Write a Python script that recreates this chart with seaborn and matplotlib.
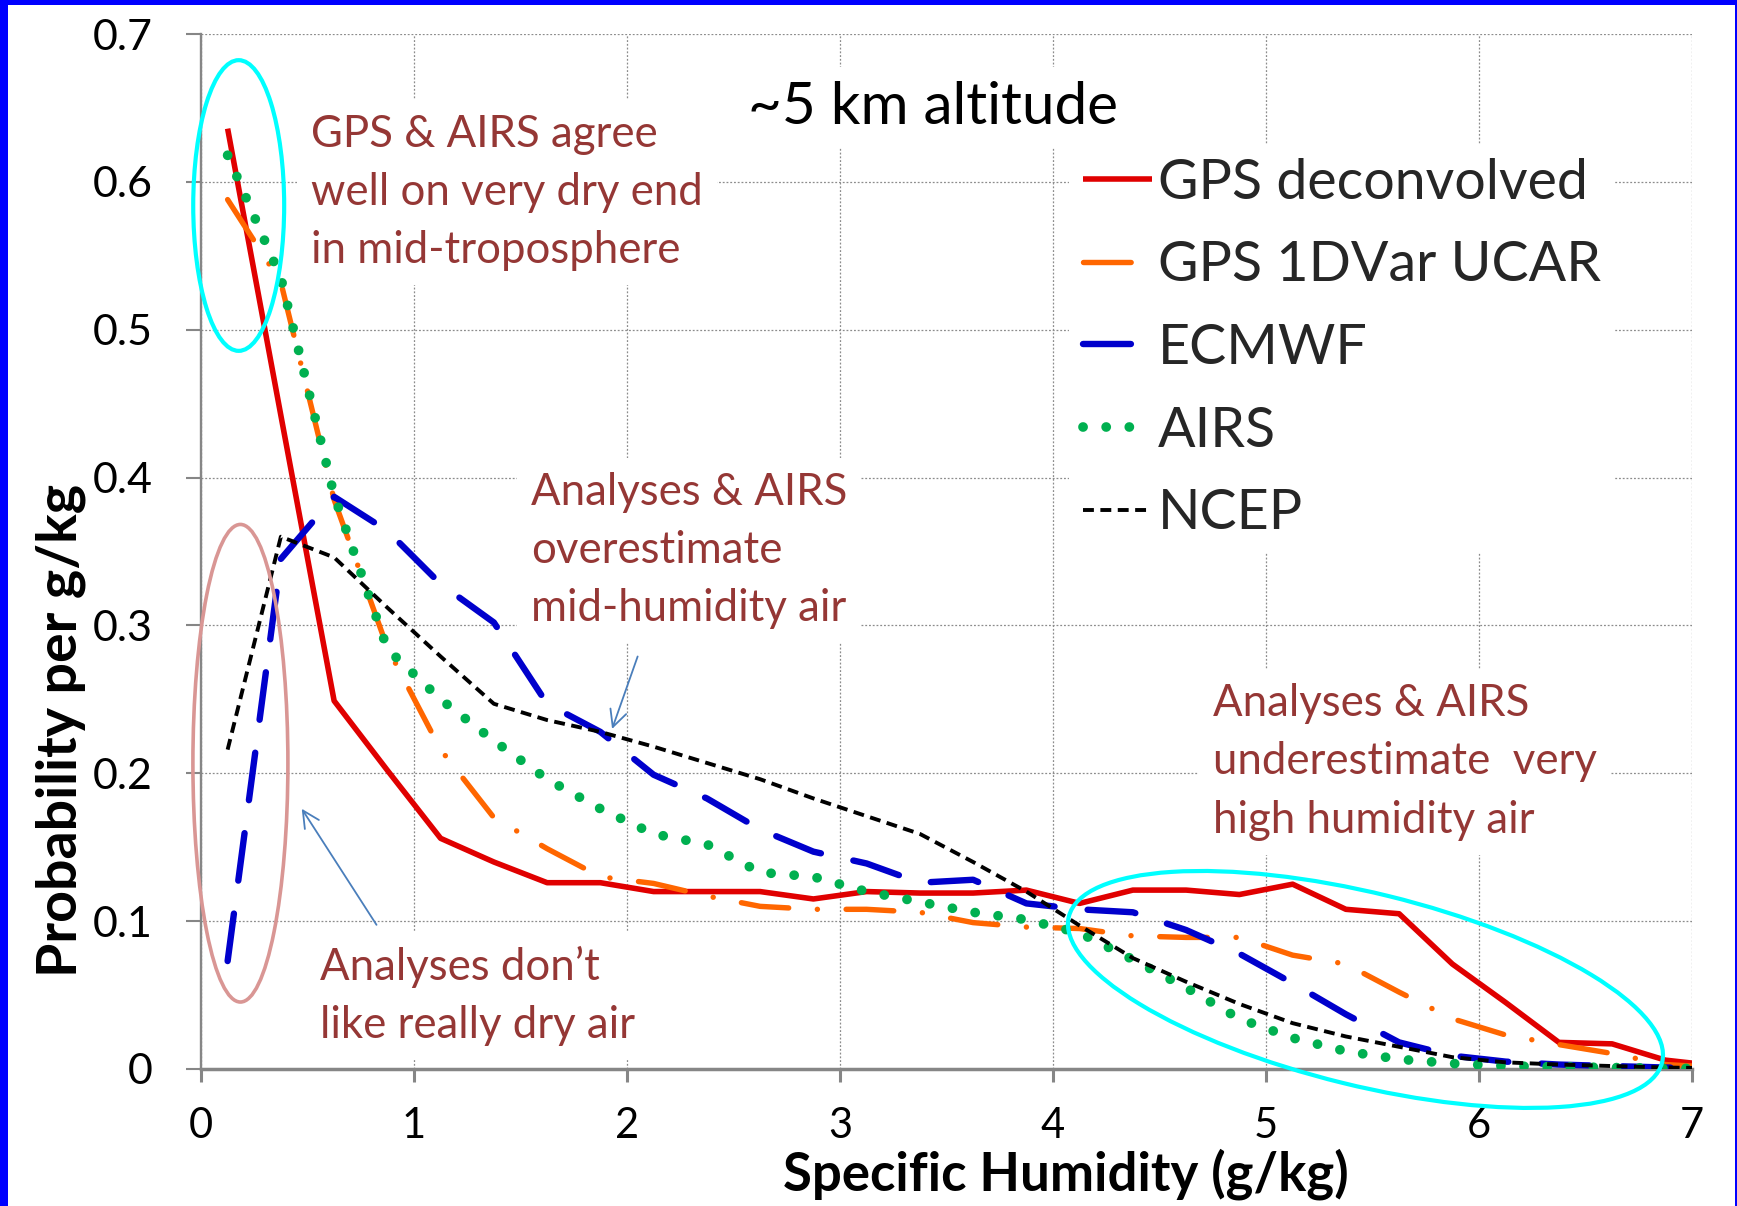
import matplotlib
matplotlib.use("Agg")
import matplotlib.pyplot as plt
import seaborn as sns
from matplotlib.patches import Ellipse, Rectangle
from matplotlib.transforms import ScaledTranslation

# ---------------- data ----------------
humidity = [0.125, 0.375, 0.625, 0.875, 1.125, 1.375, 1.625, 1.875, 2.125, 2.375,
            2.625, 2.875, 3.125, 3.375, 3.625, 3.875, 4.125, 4.375, 4.625, 4.875,
            5.125, 5.375, 5.625, 5.875, 6.125, 6.375, 6.625, 6.875, 7.125]

gps_deconvolved = [0.636, 0.442, 0.249, 0.202, 0.156, 0.140, 0.126, 0.126, 0.120, 0.120,
                   0.120, 0.115, 0.120, 0.119, 0.119, 0.121, 0.112, 0.121, 0.121, 0.118,
                   0.125, 0.108, 0.105, 0.071, 0.045, 0.018, 0.017, 0.006, 0.002]

gps_1dvar_ucar = [0.588, 0.532, 0.385, 0.285, 0.216, 0.170, 0.149, 0.130, 0.1255, 0.117,
                  0.110, 0.108, 0.108, 0.106, 0.099, 0.096, 0.095, 0.090, 0.089, 0.089,
                  0.077, 0.071, 0.052, 0.034, 0.023, 0.0165, 0.0105, 0.003, 0.001]

ecmwf = [0.073, 0.345, 0.387, 0.364, 0.328, 0.302, 0.247, 0.228, 0.199, 0.183,
         0.162, 0.147, 0.139, 0.126, 0.128, 0.112, 0.108, 0.106, 0.094, 0.078,
         0.058, 0.037, 0.018, 0.009, 0.005, 0.003, 0.002, 0.001, 0.0005]

airs = [0.618, 0.535, 0.388, 0.284, 0.250, 0.222, 0.196, 0.176, 0.159, 0.152,
        0.133, 0.130, 0.120, 0.113, 0.106, 0.101, 0.092, 0.074, 0.055, 0.034,
        0.021, 0.012, 0.0066, 0.0037, 0.002, 0.0015, 0.001, 0.0005, 0.0003]

ncep = [0.216, 0.360, 0.346, 0.312, 0.279, 0.247, 0.236, 0.228, 0.218, 0.207,
        0.196, 0.183, 0.171, 0.159, 0.140, 0.120, 0.097, 0.075, 0.059, 0.044,
        0.031, 0.022, 0.015, 0.008, 0.0045, 0.003, 0.002, 0.001, 0.0005]

series_names = ["GPS deconvolved", "GPS 1DVar UCAR", "ECMWF", "AIRS", "NCEP"]
series_values = [gps_deconvolved, gps_1dvar_ucar, ecmwf, airs, ncep]

x_ticks = [0, 1, 2, 3, 4, 5, 6, 7]
x_tick_labels = ["0", "1", "2", "3", "4", "5", "6", "7"]
y_ticks = [0, 0.1, 0.2, 0.3, 0.4, 0.5, 0.6, 0.7]
y_tick_labels = ["0", "0.1", "0.2", "0.3", "0.4", "0.5", "0.6", "0.7"]

# ---------------- styles ----------------
line_styles = [
    dict(color="#E00000", lw=4.0, linestyle="-", solid_capstyle="butt"),
    dict(color="#FF6600", lw=3.9, linestyle=(0, (8.8, 5.3, 0.01, 5.3)), dash_capstyle="round"),
    dict(color="#0000CC", lw=4.6, linestyle=(0, (7.5, 5.2)), dash_capstyle="round"),
    dict(color="#00B050", lw=7.0, linestyle=(0, (0.01, 2.37)), dash_capstyle="round"),
    dict(color="black", lw=2.8, linestyle=(0, (2.8, 1.67)), dash_capstyle="butt"),
]

BROWN = "#953735"
W, H = 1737, 1206

sns.set_theme(style="white")
plt.rcParams["font.family"] = ["Lato", "DejaVu Sans"]

fig = plt.figure(figsize=(W / 100, H / 100), dpi=100, facecolor="#0000FF")
fig.add_artist(Rectangle((8 / W, 0), (W - 10) / W, 1 - 5 / H, transform=fig.transFigure,
                         facecolor="white", edgecolor="none", zorder=-5))

ax = fig.add_axes([201 / W, (H - 1069) / H, (1692 - 201) / W, (1069 - 34) / H])
ax.set_facecolor("white")

for name, vals, st in zip(series_names, series_values, line_styles):
    sns.lineplot(x=humidity, y=vals, ax=ax, label=name, errorbar=None, sort=False,
                 zorder=3, **st)

ax.set_xlim(0, 7)
ax.set_ylim(0, 0.7)
ax.set_xticks(x_ticks)
ax.set_xticklabels(x_tick_labels)
ax.set_yticks(y_ticks)
ax.set_yticklabels(y_tick_labels)

ax.set_axisbelow(True)
ax.grid(True, color="#8c8c8c", lw=0.9, linestyle=(0, (1.5, 1.5)))

for s in ["top", "right"]:
    ax.spines[s].set_visible(False)
ax.spines["left"].set_color("#868686")
ax.spines["left"].set_linewidth(1.7)
ax.spines["bottom"].set_color("#868686")
ax.spines["bottom"].set_linewidth(2.5)

ax.tick_params(axis="y", direction="out", length=11, width=1.5, color="#868686",
               pad=24, labelsize=31, labelcolor="black", left=True)
ax.tick_params(axis="x", direction="out", length=9, width=2.2, color="#868686",
               pad=18, labelsize=30, labelcolor="black", bottom=True)

ax.set_xlabel("Specific Humidity (g/kg)", fontsize=38, fontweight="bold", color="black")
ax.xaxis.set_label_coords(0.580, -0.0765)
ax.set_ylabel("Probability per g/kg", fontsize=40, fontweight="bold", color="black", va="center")
ax.yaxis.set_label_coords(-0.094, 0.327)

# legend
handles = ax.get_lines()[:5]
leg = ax.legend(handles=handles, labels=series_names, loc="upper left",
                bbox_to_anchor=(0.582, 0.894), borderaxespad=0, borderpad=0.25,
                fontsize=40, handlelength=1.25, handletextpad=0.1, labelspacing=0.57,
                frameon=True, fancybox=False, facecolor="white", edgecolor="none",
                framealpha=1)
leg.set_zorder(2.5)

box = dict(facecolor="white", edgecolor="none", pad=10)
note = dict(fontsize=31.5, color=BROWN, ha="left", va="center", linespacing=1.52,
            zorder=2.5, bbox=box)

ax.text(2.568, 0.650, "~5 km altitude", fontsize=42, color="black", ha="left",
        va="center", zorder=2.5, bbox=box)
ax.text(0.517, 0.593, "GPS & AIRS agree\nwell on very dry end\nin mid-troposphere", **note)
ax.text(1.548, 0.3505, "Analyses & AIRS\noverestimate\nmid-humidity air", **note)
ax.text(4.75, 0.2077, "Analyses & AIRS\nunderestimate  very\nhigh humidity air", **note)
ax.text(0.559, 0.0497, "Analyses don\u2019t\nlike really dry air", **note)

arrow = dict(arrowstyle="->,head_length=0.6,head_width=0.3", color="#4A7EBB", lw=1.3,
             mutation_scale=20, shrinkA=0, shrinkB=0)
ax.annotate("", xy=(1.93, 0.230), xytext=(2.05, 0.279), arrowprops=arrow, zorder=4)
ax.annotate("", xy=(0.473, 0.176), xytext=(0.824, 0.0975), arrowprops=arrow, zorder=4)

# ellipses
ax.add_patch(Ellipse((0.177, 0.584), width=0.427, height=0.1966, fill=False,
                     edgecolor="#00FFFF", lw=3.0, zorder=5, clip_on=False))
ax.add_patch(Ellipse((0.185, 0.2068), width=0.446, height=0.323, fill=False,
                     edgecolor="#D99694", lw=2.6, zorder=5, clip_on=False))
rot_tr = fig.dpi_scale_trans + ScaledTranslation(5.467, 0.0538, ax.transData)
ax.add_patch(Ellipse((0, 0), width=6.109, height=1.924, angle=-13.8, fill=False,
                     edgecolor="#00FFFF", lw=3.0, zorder=5, clip_on=False, transform=rot_tr))

fig.savefig("out.png", dpi=100, facecolor=fig.get_facecolor())
